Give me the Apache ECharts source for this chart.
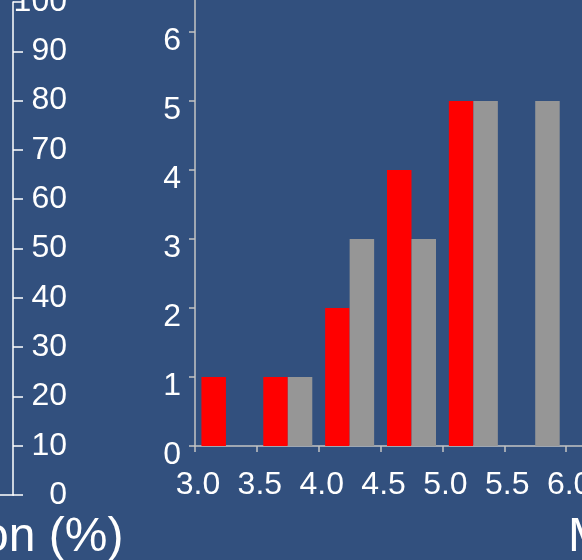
<!DOCTYPE html>
<html>
<head>
<meta charset="utf-8">
<script src="https://cdn.jsdelivr.net/npm/echarts@6/dist/echarts.min.js"></script>
<style>
html,body{margin:0;padding:0;background:#32507e;}
#c{width:582px;height:560px;}
</style>
</head>
<body>
<div id="c"></div>
<script>
// Data
const bins = ['3.0-3.5','3.5-4.0','4.0-4.5','4.5-5.0','5.0-5.5','5.5-6.0','6.0-6.5'];
const redCounts = [1, 1, 2, 4, 5, 0, 0];
const grayCounts = [0, 1, 3, 3, 5, 5, 0];
const leftTitle = 'on (%)';
const rightTitle = 'M';

const FONT = '"Liberation Sans", Arial, sans-serif';
const chart = echarts.init(document.getElementById('c'), null, {renderer: 'canvas'});
chart.setOption({
  backgroundColor: '#32507e',
  animation: false,
  grid: [
    {left: 0, top: 2, width: 13, height: 493, outerBoundsMode: 'none', containLabel: false},
    {left: 195, top: -37, width: 433, height: 483, outerBoundsMode: 'none', containLabel: false}
  ],
  xAxis: [
    {type: 'value', gridIndex: 0, min: 0, max: 1, position: 'bottom',
     axisLine: {show: true, onZero: false, lineStyle: {color: '#ffffff', width: 1.5}},
     axisTick: {show: false}, axisLabel: {show: false}, splitLine: {show: false}},
    {type: 'category', gridIndex: 1, data: bins, show: false, position: 'bottom'},
    {type: 'value', gridIndex: 1, min: 3, max: 6.5, interval: 0.5, position: 'bottom',
     axisLine: {show: true, onZero: false, lineStyle: {color: '#c4c4c4', width: 1.5}},
     axisTick: {show: true, length: 6, lineStyle: {color: '#c4c4c4', width: 1.5}},
     axisLabel: {color: '#ffffff', fontSize: 32, fontFamily: FONT, margin: 23,
       padding: [0, 0, 0, 6],
       formatter: v => v.toFixed(1)},
     splitLine: {show: false}}
  ],
  yAxis: [
    {type: 'value', gridIndex: 0, min: 0, max: 100, interval: 10, position: 'right',
     axisLine: {show: true, onZero: false, lineStyle: {color: '#ffffff', width: 1.5}},
     axisTick: {show: true, length: 10, lineStyle: {color: '#ffffff', width: 1.5}},
     axisLabel: {color: '#ffffff', fontSize: 32, fontFamily: FONT, align: 'right', margin: 54},
     splitLine: {show: false}},
    {type: 'value', gridIndex: 1, min: 0, max: 7, interval: 1, position: 'left',
     axisLine: {show: true, onZero: false, lineStyle: {color: '#c4c4c4', width: 1.5}},
     axisTick: {show: true, length: 6, lineStyle: {color: '#c4c4c4', width: 1.5}},
     axisLabel: {color: '#ffffff', fontSize: 32, fontFamily: FONT, margin: 14,
       verticalAlign: 'top', lineHeight: 18},
     splitLine: {show: false}}
  ],
  series: [
    {type: 'bar', xAxisIndex: 1, yAxisIndex: 1, data: redCounts, barWidth: 24.5, barGap: '0%',
     itemStyle: {color: '#ff0000'}},
    {type: 'bar', xAxisIndex: 1, yAxisIndex: 1, data: grayCounts, barWidth: 24.5, barGap: '0%',
     itemStyle: {color: '#969696'}}
  ],
  graphic: [
    {type: 'text', x: -18, y: 538, style: {text: leftTitle, fill: '#ffffff', font: '48px ' + FONT, textVerticalAlign: 'middle'}},
    {type: 'text', x: 568, y: 538, style: {text: rightTitle, fill: '#ffffff', font: '48px ' + FONT, textVerticalAlign: 'middle'}}
  ]
});
</script>
</body>
</html>
